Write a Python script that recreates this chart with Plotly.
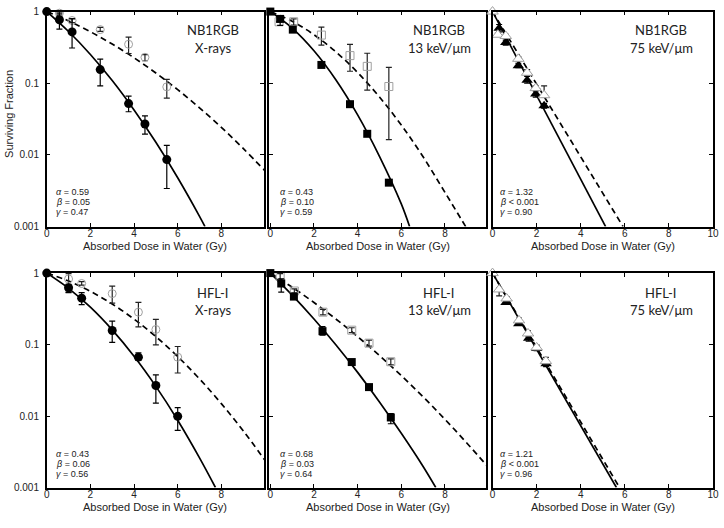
import plotly.graph_objects as go

W, H = 724, 528

# ---------------- data ----------------
# Panel 1: NB1RGB, X-rays
p1_solid_x = [0, 1, 2, 3, 4, 5, 6, 7, 7.25]
p1_solid_y = [1, 0.527, 0.252, 0.109, 0.0424, 0.0150, 0.0048, 0.00139, 0.001]
p1_dash_x = [0, 1, 2, 3, 4, 5, 6, 7, 8, 9, 10]
p1_dash_y = [1, 0.740, 0.523, 0.352, 0.2265, 0.1389, 0.0813, 0.0454, 0.0242, 0.0123, 0.0060]
p1_f_x = [0, 0.58, 1.16, 2.45, 3.75, 4.5, 5.5]
p1_f_y = [1, 0.77, 0.52, 0.155, 0.052, 0.027, 0.0086]
p1_f_hi = [1, 0.95, 0.79, 0.217, 0.066, 0.035, 0.0136]
p1_f_lo = [1, 0.57, 0.31, 0.092, 0.040, 0.0195, 0.0034]
p1_o_x = [0.58, 1.16, 2.45, 3.75, 4.5, 5.5]
p1_o_y = [0.95, 0.75, 0.56, 0.35, 0.23, 0.089]
p1_o_hi = [1.0, 0.80, 0.60, 0.44, 0.25, 0.113]
p1_o_lo = [0.90, 0.70, 0.53, 0.26, 0.206, 0.062]

# Panel 2: NB1RGB, 13 keV/um
p2_solid_x = [0, 1, 2, 3, 4, 5, 6, 6.38]
p2_solid_y = [1, 0.589, 0.284, 0.112, 0.0362, 0.00956, 0.00207, 0.001]
p2_dash_x = [0, 1, 2, 3, 4, 5, 6, 7, 8, 8.95]
p2_dash_y = [1, 0.7315, 0.4755, 0.2747, 0.141, 0.0643, 0.0261, 0.0094, 0.0030, 0.001]
p2_f_x = [0, 0.45, 1.03, 2.34, 3.65, 4.44, 5.43]
p2_f_y = [1, 0.79, 0.56, 0.18, 0.051, 0.0197, 0.0041]
p2_f_hi = [1, 0.87, 0.56, 0.18, 0.051, 0.0197, 0.0041]
p2_f_lo = [1, 0.64, 0.56, 0.18, 0.051, 0.0197, 0.0041]
p2_o_x = [0.4, 1.07, 2.34, 3.65, 4.44, 5.43]
p2_o_y = [0.72, 0.72, 0.47, 0.243, 0.172, 0.090]
p2_o_hi = [0.72, 0.79, 0.605, 0.348, 0.262, 0.167]
p2_o_lo = [0.72, 0.65, 0.34, 0.147, 0.080, 0.0163]

# Panel 3: NB1RGB, 75 keV/um
p3_solid_x = [0, 5.13]
p3_solid_y = [1, 0.001]
p3_dash_x = [0, 5.92]
p3_dash_y = [1, 0.001]
p3_f_x = [0.3, 0.6, 1.17, 1.57, 1.96, 2.34]
p3_f_y = [0.586, 0.37, 0.176, 0.11, 0.071, 0.0486]
p3_f_hi = [0.66, 0.40, 0.19, 0.125, 0.078, 0.052]
p3_f_lo = [0.52, 0.34, 0.165, 0.10, 0.064, 0.045]
p3_o_x = [0, 0.24, 0.6, 1.17, 1.57, 1.96, 2.34]
p3_o_y = [1, 0.475, 0.456, 0.219, 0.14, 0.0855, 0.068]
p3_o_hi = [1, 0.50, 0.48, 0.235, 0.155, 0.092, 0.092]
p3_o_lo = [1, 0.45, 0.43, 0.205, 0.13, 0.080, 0.064]

# Panel 4: HFL-I, X-rays
p4_solid_x = [0, 1, 2, 3, 4, 5, 6, 7, 7.73]
p4_solid_y = [1, 0.6126, 0.3329, 0.1604, 0.0686, 0.026, 0.00874, 0.0026, 0.001]
p4_dash_x = [0, 1, 2, 3, 4, 5, 6, 7, 8, 9, 10]
p4_dash_y = [1, 0.775, 0.556, 0.369, 0.227, 0.129, 0.068, 0.0331, 0.0149, 0.00623, 0.0024]
p4_f_x = [0, 1.0, 1.6, 3.0, 4.2, 5.0, 6.0]
p4_f_y = [1, 0.623, 0.446, 0.1575, 0.0666, 0.0267, 0.0099]
p4_f_hi = [1, 0.693, 0.533, 0.213, 0.0763, 0.0377, 0.0131]
p4_f_lo = [1, 0.533, 0.361, 0.107, 0.060, 0.0152, 0.0063]
p4_o_x = [1.0, 1.6, 3.0, 4.2, 5.0, 6.0]
p4_o_y = [0.828, 0.715, 0.516, 0.284, 0.1626, 0.0666]
p4_o_hi = [0.98, 0.76, 0.657, 0.389, 0.225, 0.094]
p4_o_lo = [0.54, 0.68, 0.38, 0.177, 0.099, 0.040]

# Panel 5: HFL-I, 13 keV/um
p5_solid_x = [0, 1, 2, 3, 4, 5, 6, 7, 7.58]
p5_solid_y = [1, 0.4916, 0.2276, 0.0993, 0.0408, 0.01576, 0.00574, 0.00197, 0.001]
p5_dash_x = [0, 1, 2, 3, 4, 5, 6, 7, 8, 9, 10]
p5_dash_y = [1, 0.6349, 0.3878, 0.228, 0.129, 0.0702, 0.0368, 0.01856, 0.0090, 0.0042, 0.0019]
p5_f_x = [0, 0.5, 1.08, 2.39, 3.73, 4.52, 5.52]
p5_f_y = [1, 0.715, 0.469, 0.154, 0.0569, 0.0254, 0.00955]
p5_f_hi = [1, 0.83, 0.469, 0.178, 0.0569, 0.0254, 0.0108]
p5_f_lo = [1, 0.54, 0.469, 0.135, 0.0569, 0.0254, 0.0078]
p5_o_x = [0.45, 1.1, 2.41, 3.73, 4.52, 5.52]
p5_o_y = [0.9, 0.561, 0.284, 0.159, 0.1046, 0.0575]
p5_o_hi = [0.98, 0.60, 0.31, 0.172, 0.115, 0.063]
p5_o_lo = [0.82, 0.53, 0.26, 0.147, 0.095, 0.052]

# Panel 6: HFL-I, 75 keV/um
p6_solid_x = [0, 5.62]
p6_solid_y = [1, 0.001]
p6_dash_x = [0, 5.76]
p6_dash_y = [1, 0.001]
p6_f_x = [0.61, 1.19, 1.64, 2.0, 2.43]
p6_f_y = [0.389, 0.196, 0.1225, 0.088, 0.054]
p6_f_hi = [0.41, 0.21, 0.135, 0.095, 0.060]
p6_f_lo = [0.37, 0.185, 0.112, 0.082, 0.049]
p6_o_x = [0, 0.3, 0.64, 1.2, 1.61, 2.0, 2.42]
p6_o_y = [1, 0.59, 0.441, 0.218, 0.143, 0.0912, 0.0587]
p6_o_hi = [1, 0.62, 0.47, 0.235, 0.155, 0.098, 0.066]
p6_o_lo = [1, 0.48, 0.42, 0.205, 0.132, 0.085, 0.053]

cell_lines = ["NB1RGB", "NB1RGB", "NB1RGB", "HFL-I", "HFL-I", "HFL-I"]
radiations = ["X-rays", "13 keV/μm", "75 keV/μm", "X-rays", "13 keV/μm", "75 keV/μm"]
alphas = ["0.59", "0.43", "1.32", "0.43", "0.68", "1.21"]
betas = ["= 0.05", "= 0.10", "< 0.001", "= 0.06", "= 0.03", "< 0.001"]
gammas = ["0.47", "0.59", "0.90", "0.56", "0.64", "0.96"]

x_tickvals = [0, 2, 4, 6, 8, 10]
y_tickvals = [0.001, 0.01, 0.1, 1]
y_ticktext = ["0.001", "0.01", "0.1", "1"]
x_title = "Absorbed Dose in Water (Gy)"
y_title = "Surviving Fraction"

# ---------------- layout geometry (pixels) ----------------
cols = [(44.3, 264.3, [0, 9.955]), (269.5, 489.5, [-0.054, 9.9]), (495.7, 719.0, [0, 10.004])]
rows = [(5.7, 225.7), (273.3, 492.7)]

panels = [
    (p1_solid_x, p1_solid_y, p1_dash_x, p1_dash_y, p1_f_x, p1_f_y, p1_f_hi, p1_f_lo, p1_o_x, p1_o_y, p1_o_hi, p1_o_lo, "circle"),
    (p2_solid_x, p2_solid_y, p2_dash_x, p2_dash_y, p2_f_x, p2_f_y, p2_f_hi, p2_f_lo, p2_o_x, p2_o_y, p2_o_hi, p2_o_lo, "square"),
    (p3_solid_x, p3_solid_y, p3_dash_x, p3_dash_y, p3_f_x, p3_f_y, p3_f_hi, p3_f_lo, p3_o_x, p3_o_y, p3_o_hi, p3_o_lo, "triangle-up"),
    (p4_solid_x, p4_solid_y, p4_dash_x, p4_dash_y, p4_f_x, p4_f_y, p4_f_hi, p4_f_lo, p4_o_x, p4_o_y, p4_o_hi, p4_o_lo, "circle"),
    (p5_solid_x, p5_solid_y, p5_dash_x, p5_dash_y, p5_f_x, p5_f_y, p5_f_hi, p5_f_lo, p5_o_x, p5_o_y, p5_o_hi, p5_o_lo, "square"),
    (p6_solid_x, p6_solid_y, p6_dash_x, p6_dash_y, p6_f_x, p6_f_y, p6_f_hi, p6_f_lo, p6_o_x, p6_o_y, p6_o_hi, p6_o_lo, "triangle-up"),
]

TXT = "#222222"
TICKFONT = dict(family="Liberation Sans, Arial, sans-serif", size=10, color=TXT)

fig = go.Figure()
layout = dict(width=W, height=H, margin=dict(l=0, r=0, t=0, b=0), autosize=False,
              paper_bgcolor="white", plot_bgcolor="white", showlegend=False)
annotations = []


def errs(y, hi, lo):
    return [h - v for h, v in zip(hi, y)], [v - l for v, l in zip(y, lo)]


for i, pan in enumerate(panels):
    (sx, sy, dx, dy, fx, fy, fhi, flo, ox, oy, ohi, olo, sym) = pan
    r, c = divmod(i, 3)
    x0, x1, xr = cols[c]
    top, bot = rows[r]
    n = "" if i == 0 else str(i + 1)
    xa, ya = "x" + n, "y" + n
    layout["xaxis" + n] = dict(
        domain=[x0 / W, x1 / W], range=xr, anchor=ya, tickvals=x_tickvals,
        ticks="inside", ticklen=4, tickwidth=1, tickcolor="black", mirror="allticks",
        showline=True, linecolor="black", linewidth=1.5, showgrid=False, zeroline=False,
        tickfont=TICKFONT, ticklabelstandoff=-3, ticklabeloverflow="allow")
    layout["yaxis" + n] = dict(
        domain=[1 - bot / H, 1 - top / H], type="log", range=[-3, 0], anchor=xa,
        tickvals=y_tickvals, ticktext=y_ticktext, showticklabels=(c == 0),
        ticks="inside", ticklen=4, tickwidth=1, tickcolor="black", mirror="allticks",
        showline=True, linecolor="black", linewidth=1.5, showgrid=False, zeroline=False,
        tickfont=TICKFONT, ticklabelstandoff=4, ticklabeloverflow="allow")

    fig.add_trace(go.Scatter(x=dx, y=dy, xaxis=xa, yaxis=ya, mode="lines",
                             line=dict(color="black", width=1.7, dash="6px,4px", shape="spline")))
    fig.add_trace(go.Scatter(x=sx, y=sy, xaxis=xa, yaxis=ya, mode="lines",
                             line=dict(color="black", width=1.7, shape="spline")))

    if sym == "triangle-up":
        fsize, osize = 10, 10
        ofill = "white"
    elif sym == "square":
        fsize, osize = 8, 8
        ofill = "rgba(0,0,0,0)"
    else:
        fsize, osize = 9, 8
        ofill = "rgba(0,0,0,0)"

    fp, fm = errs(fy, fhi, flo)
    op, om = errs(oy, ohi, olo)
    filled = go.Scatter(x=fx, y=fy, xaxis=xa, yaxis=ya, mode="markers", cliponaxis=False,
                        marker=dict(symbol=sym, size=fsize, color="black", line=dict(width=0)),
                        error_y=dict(type="data", symmetric=False, array=fp, arrayminus=fm,
                                     color="black", thickness=1.2, width=3))
    opened = go.Scatter(x=ox, y=oy, xaxis=xa, yaxis=ya, mode="markers", cliponaxis=False,
                        marker=dict(symbol=sym, size=osize, color=ofill,
                                    line=dict(width=1, color="#a0a0a0")),
                        error_y=dict(type="data", symmetric=False, array=op, arrayminus=om,
                                     color="#222222", thickness=1.2, width=3))
    if sym == "triangle-up":
        fig.add_trace(filled)
        fig.add_trace(opened)
    else:
        fig.add_trace(opened)
        fig.add_trace(filled)

    # panel labels
    cx = [212.5, 441.7, 666.7][c]
    ly1 = [25, 293.3][r]
    ly2 = [43.3, 311][r]
    lab_font = dict(family="Lato, Open Sans, sans-serif", size=13, color=TXT)
    annotations.append(dict(x=cx / W, y=1 - ly1 / H, xref="paper", yref="paper", text=cell_lines[i],
                            showarrow=False, xanchor="center", yanchor="middle", font=lab_font))
    annotations.append(dict(x=cx / W, y=1 - ly2 / H, xref="paper", yref="paper", text=radiations[i],
                            showarrow=False, xanchor="center", yanchor="middle", font=lab_font))

    # parameters
    px0 = [52, 278, 501][c]
    pys = [[190.5, 200.5, 210.5], [458, 468.3, 478.6]][r]
    pfont = dict(family="Liberation Sans, Arial, sans-serif", size=9, color=TXT)
    ptexts = ["<i>α</i> = " + alphas[i], "<i>β</i> " + betas[i], "<i>γ</i> = " + gammas[i]]
    for t, py in zip(ptexts, pys):
        annotations.append(dict(x=px0 / W, y=1 - py / H, xref="paper", yref="paper", text=t,
                                showarrow=False, xanchor="left", yanchor="middle", font=pfont))

    # x-axis title
    annotations.append(dict(x=(x0 + x1) / 2 / W, y=1 - (bot + 19.5) / H, xref="paper", yref="paper",
                            text=x_title, showarrow=False, xanchor="center", yanchor="middle",
                            font=dict(family="Liberation Sans, Arial, sans-serif", size=11, color=TXT)))

# y-axis title (top-left only)
annotations.append(dict(x=5.5 / W, y=1 - 110 / H, xref="paper", yref="paper", text=y_title,
                        showarrow=False, textangle=-90, xanchor="center", yanchor="middle",
                        font=dict(family="Liberation Sans, Arial, sans-serif", size=11, color=TXT)))

layout["annotations"] = annotations
fig.update_layout(**layout)
fig.write_html("out.html", config={"displayModeBar": False},
               post_script="document.body.style.margin='0';document.body.style.overflow='hidden';")
